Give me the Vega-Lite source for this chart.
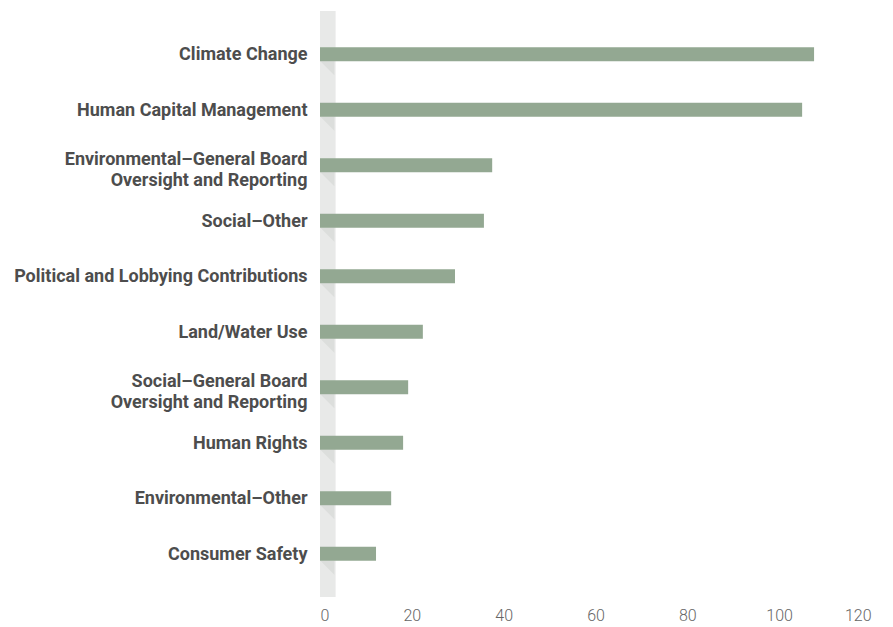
{
  "$schema": "https://vega.github.io/schema/vega-lite/v6.json",
  "width": 551,
  "height": 586,
  "autosize": {"type": "none"},
  "padding": {"left": 320, "top": 11, "right": 22, "bottom": 30},
  "background": "white",
  "config": {"view": {"stroke": null}},
  "datasets": {
    "topics": [
      {"topic": "Climate Change", "count": 107.6},
      {"topic": "Human Capital Management", "count": 105},
      {"topic": "Environmental–General Board|Oversight and Reporting", "count": 37.5},
      {"topic": "Social–Other", "count": 35.7},
      {"topic": "Political and Lobbying Contributions", "count": 29.4},
      {"topic": "Land/Water Use", "count": 22.4},
      {"topic": "Social–General Board|Oversight and Reporting", "count": 19.2},
      {"topic": "Human Rights", "count": 18.1},
      {"topic": "Environmental–Other", "count": 15.5},
      {"topic": "Consumer Safety", "count": 12.2}
    ],
    "strip": [{"start": 0, "end": 3.4}]
  },
  "layer": [
    {
      "data": {"name": "strip"},
      "mark": {"type": "rect", "color": "#e8e9e8"},
      "encoding": {
        "x": {"field": "start", "type": "quantitative", "scale": {"domain": [0, 120]}},
        "x2": {"field": "end"}
      }
    },
    {
      "data": {"name": "topics"},
      "mark": {"type": "point", "shape": "M -1 -1 L 1 -1 L 1 1 Z", "filled": true, "color": "#dcdedc", "opacity": 1, "size": 196, "yOffset": 14, "strokeWidth": 0},
      "encoding": {
        "x": {"datum": 1.6, "type": "quantitative"},
        "y": {"field": "topic", "type": "nominal", "sort": null}
      }
    },
    {
      "data": {"name": "topics"},
      "mark": {"type": "bar", "color": "#93a892", "size": 14},
      "encoding": {
        "y": {
          "field": "topic", "type": "nominal", "sort": null,
          "scale": {"paddingInner": 0, "paddingOuter": 0.28},
          "axis": {
            "title": null, "domain": false, "ticks": false, "labelPadding": 13,
            "labelExpr": "split(datum.label, '|')",
            "labelOffset": {"condition": {"test": "indexof(datum.value, '|') >= 0", "value": -5}, "value": 1},
            "labelFont": "Roboto, sans-serif",
            "labelFontWeight": "bold", "labelFontSize": 18, "labelColor": "#4d4d4d",
            "labelLineHeight": 21, "labelLimit": 320
          }
        },
        "x": {
          "field": "count", "type": "quantitative",
          "scale": {"domain": [0, 120]},
          "axis": {
            "title": null, "domain": false, "ticks": false, "grid": false,
            "values": [0, 20, 40, 60, 80, 100, 120], "labelPadding": 10,
            "labelFont": "Roboto, sans-serif",
            "labelFontSize": 16, "labelColor": "#666666", "labelFontWeight": 300
          }
        }
      }
    }
  ]
}
